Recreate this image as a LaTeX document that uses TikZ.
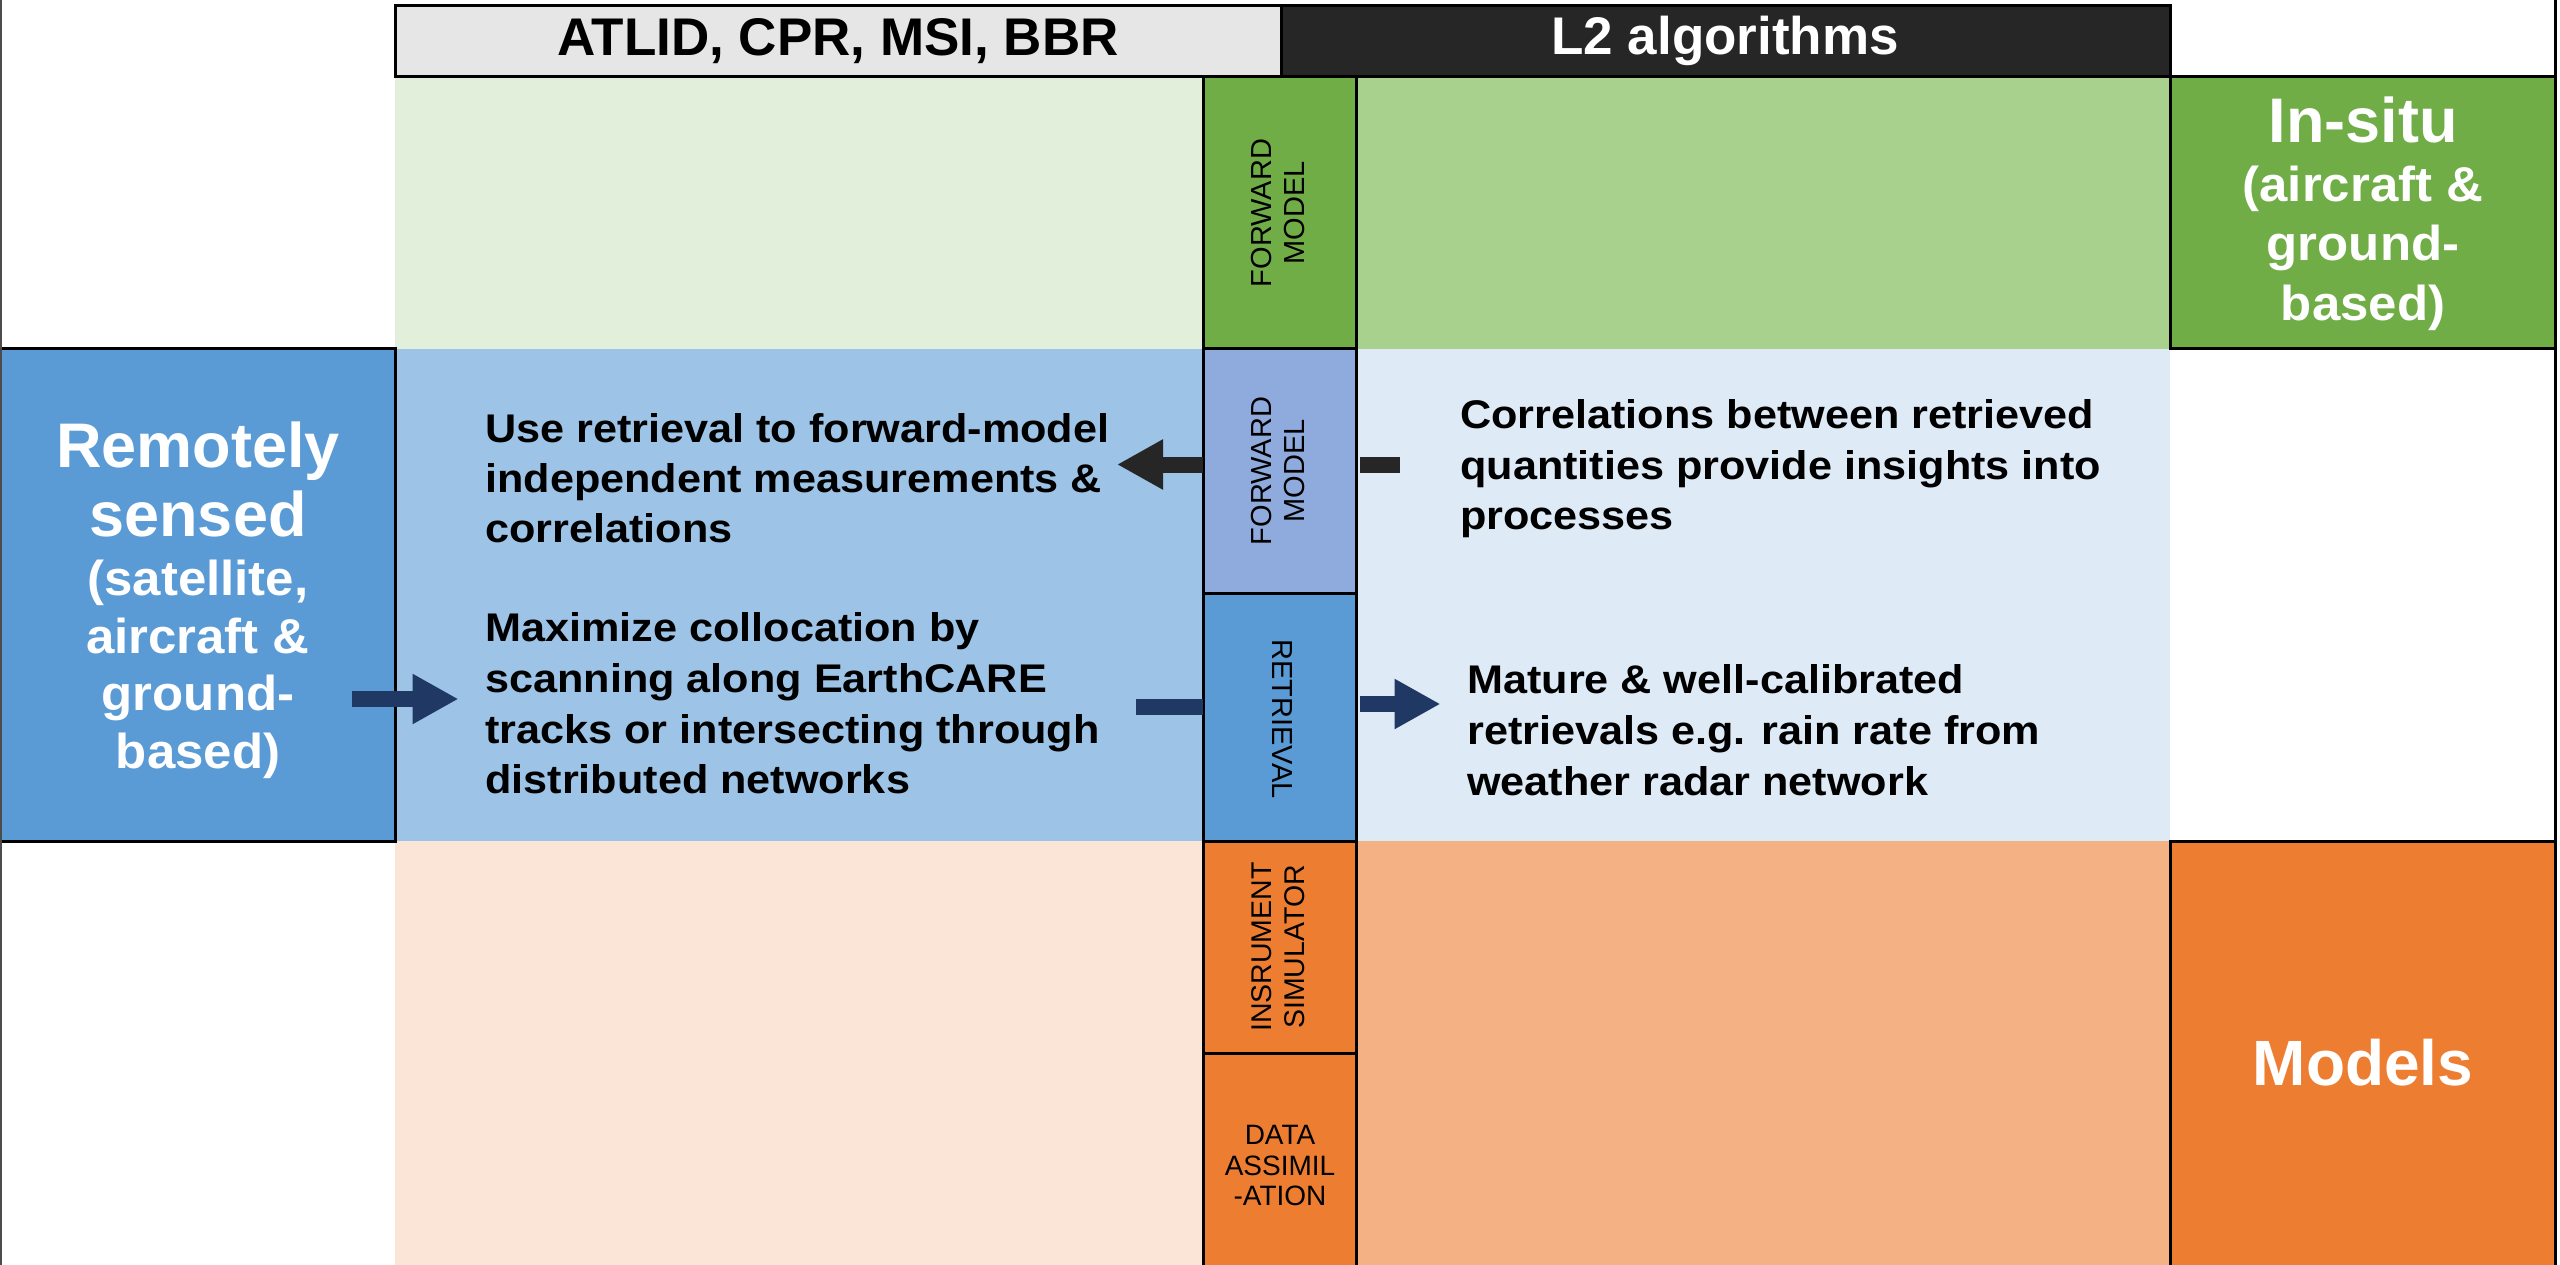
\documentclass[tikz,border=0pt]{standalone}
\usepackage{fontspec}
\setmainfont{Liberation Sans}
\newfontfamily\wideface[FakeStretch=1.08]{Liberation Sans}
\newfontfamily\midface[FakeStretch=1.04]{Liberation Sans}
\usetikzlibrary{arrows.meta}
\definecolor{hdrgrey}{HTML}{E7E6E6}
\definecolor{hdrdark}{HTML}{262626}
\definecolor{greenlight}{HTML}{E2EFDA}
\definecolor{greenmid}{HTML}{A9D18E}
\definecolor{greendark}{HTML}{70AD47}
\definecolor{bluelight}{HTML}{9DC3E6}
\definecolor{bluepale}{HTML}{DEEBF7}
\definecolor{bluefm}{HTML}{8FAADC}
\definecolor{bluedark}{HTML}{5B9BD5}
\definecolor{orangelight}{HTML}{FBE5D6}
\definecolor{orangemid}{HTML}{F4B183}
\definecolor{orangedark}{HTML}{ED7D31}
\definecolor{navy}{HTML}{203864}
\definecolor{arrowblack}{HTML}{262626}
\begin{document}
\begin{tikzpicture}[x=1pt,y=-1pt,
  cell/.style={inner sep=0pt, outer sep=0pt, anchor=north west, draw=none},
  framed/.style={cell, draw=black, line width=3pt},
  body/.style={anchor=base west, inner sep=0pt, font=\wideface\bfseries\fontsize{40}{50}\selectfont},
  bigwhite/.style={anchor=base, inner sep=0pt, text=white, font=\bfseries\fontsize{63}{69}\selectfont},
  midwhite/.style={anchor=base, inner sep=0pt, text=white, font=\midface\bfseries\fontsize{49}{57}\selectfont},
  hdrtext/.style={anchor=base, inner sep=0pt, font=\bfseries\fontsize{53}{60}\selectfont},
  vlabel/.style={inner sep=0pt, align=center, font=\fontsize{29}{33}\selectfont},
  fatarrow/.style={line width=16pt, -{Triangle[length=46pt,width=47pt]}},
  stub/.style={line width=16pt}
]
\useasboundingbox (0,0) rectangle (2560,1265);
\fill[white] (0,0) rectangle (2560,1265);

% light background cells
\node[cell, fill=greenlight, minimum width=808pt, minimum height=272pt] (g1) at (395,77) {};
\node[cell, fill=greenmid, minimum width=814pt, minimum height=272pt] (g2) at (1356,77) {};
\node[cell, fill=bluelight, minimum width=808pt, minimum height=492pt] (b1) at (395,349) {};
\node[cell, fill=bluepale, minimum width=814pt, minimum height=492pt] (b2) at (1356,349) {};
\node[cell, fill=orangelight, minimum width=808pt, minimum height=430pt] (o1) at (395,841) {};
\node[cell, fill=orangemid, minimum width=814pt, minimum height=430pt] (o2) at (1356,841) {};

% header
\node[framed, fill=hdrgrey, minimum width=886pt, minimum height=71pt] (hdrA) at (395,6) {};
\node[framed, fill=hdrdark, minimum width=889pt, minimum height=71pt] (hdrB) at (1281,6) {};

% framed cells
\node[framed, fill=greendark, minimum width=153pt, minimum height=272pt] (fmg) at (1203,77) {};
\node[framed, fill=greendark, minimum width=385pt, minimum height=272pt] (insitu) at (2170,77) {};
\node[framed, fill=bluedark, minimum width=395pt, minimum height=492pt] (rs) at (0,349) {};
\node[framed, fill=bluefm, minimum width=153pt, minimum height=244pt] (fmb) at (1203,349) {};
\node[framed, fill=bluedark, minimum width=153pt, minimum height=248pt] (ret) at (1203,593) {};
\node[framed, fill=orangedark, minimum width=153pt, minimum height=212pt] (ins) at (1203,841) {};
\node[framed, fill=orangedark, minimum width=153pt, minimum height=220pt] (da) at (1203,1053) {};
\node[framed, fill=orangedark, minimum width=385pt, minimum height=430pt] (models) at (2170,841) {};

% outer side lines
\coordinate (lt) at (1,0);
\coordinate (lb) at (1,1265);
\coordinate (rt) at (2555,0);
\coordinate (rb) at (2555,1265);
\draw[line width=2pt, black!70] (lt) -- (lb);
\draw[line width=3pt] (rt) -- (rb);

% header texts
\node[hdrtext] (hA) at (838,56) {ATLID, CPR, MSI, BBR};
\node[hdrtext, text=white] (hB) at (1725,55) {L2 algorithms};

% in-situ
\node[bigwhite] (is1) at (2363,143) {In-situ};
\node[midwhite] (is2) at (2363,202) {(aircraft \&};
\node[midwhite] (is3) at (2363,261) {ground-};
\node[midwhite] (is4) at (2363,321) {based)};

% remotely sensed
\node[bigwhite] (rs1) at (198,467) {Remotely};
\node[bigwhite] (rs2) at (198,536) {sensed};
\node[midwhite] (rs3) at (198,595) {(satellite,};
\node[midwhite] (rs4) at (198,653) {aircraft \&};
\node[midwhite] (rs5) at (198,710) {ground-};
\node[midwhite] (rs6) at (198,768) {based)};

% models
\node[bigwhite, font=\bfseries\fontsize{64}{70}\selectfont] (mo) at (2363,1085) {Models};

% body texts
\node[body] (t1a) at (485,442.5) {Use retrieval to forward-model};
\node[body] (t1b) at (485,492.5) {independent measurements \&};
\node[body] (t1c) at (485,542.5) {correlations};
\node[body] (t2a) at (485,641) {Maximize collocation by};
\node[body] (t2b) at (485,692) {scanning along EarthCARE};
\node[body] (t2c) at (485,743) {tracks or intersecting through};
\node[body] (t2d) at (485,793) {distributed networks};
\node[body] (t3a) at (1460,428) {Correlations between retrieved};
\node[body] (t3b) at (1460,479) {quantities provide insights into};
\node[body] (t3c) at (1460,529.5) {processes};
\node[body] (t4a) at (1467,693.5) {Mature \& well-calibrated};
\node[body] (t4b) at (1467,744) {retrievals e.g. rain rate from};
\node[body] (t4c) at (1467,795) {weather radar network};

% vertical labels
\node[vlabel, rotate=90] (vfmg) at (1278,213) {FORWARD\\MODEL};
\node[vlabel, rotate=90] (vfmb) at (1278,471) {FORWARD\\MODEL};
\node[vlabel, rotate=-90] (vret) at (1282,719) {RETRIEVAL};
\node[vlabel, rotate=90, font=\fontsize{28.5}{33}\selectfont] (vins) at (1278,947) {INSRUMENT\\SIMULATOR};
\node[vlabel, font=\fontsize{28}{30.5}\selectfont] (vda) at (1280,1165.5) {DATA\\ASSIMIL\\-ATION};

% arrows
\coordinate (a1s) at (352,699);
\coordinate (a1e) at (458.5,699);
\draw[fatarrow, navy] (a1s) -- (a1e);

\coordinate (s1s) at (1136,706.5);
\draw[stub, navy] (s1s) -- (ret.west |- s1s);

\coordinate (a2s) at (1359.5,704);
\coordinate (a2e) at (1440.5,704);
\draw[fatarrow, navy] (a2s) -- (a2e);

\coordinate (a3e) at (1117,464.5);
\draw[fatarrow, arrowblack] (fmb.west |- a3e) -- (a3e);

\coordinate (s2s) at (1359.5,464.5);
\coordinate (s2e) at (1400,464.5);
\draw[stub, arrowblack] (s2s) -- (s2e);
\end{tikzpicture}
\end{document}
